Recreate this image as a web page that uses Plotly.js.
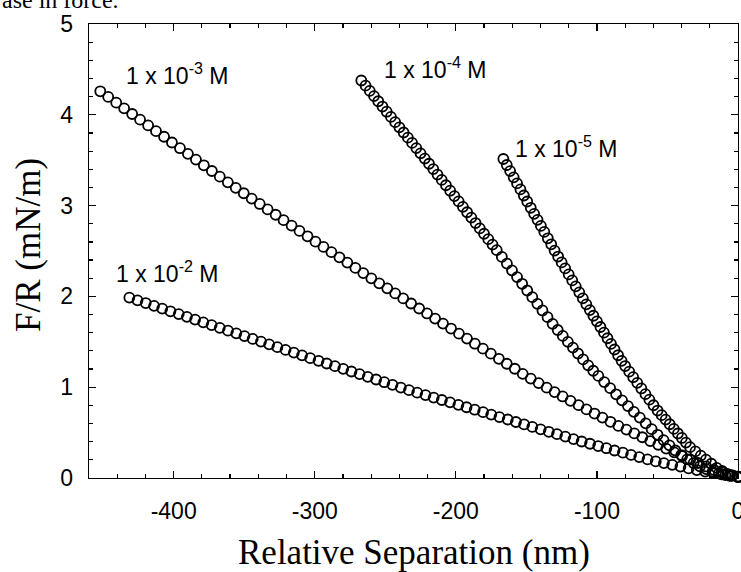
<!DOCTYPE html>
<html>
<head>
<meta charset="utf-8">
<script src="https://cdn.plot.ly/plotly-3.0.1.min.js"></script>
<style>html,body{margin:0;padding:0;background:#fff;}#chart{width:741px;height:572px;}</style>
</head>
<body>
<div id="chart"></div>
<script>
// 1 x 10^-3 M
var sep_1e3 = [-452, -446.4, -440.7, -435.1, -429.4, -423.8, -418.1, -412.5, -406.8, -401.2, -395.5, -389.9, -384.2, -378.6, -372.9, -367.3, -361.6, -356.0, -350.3, -344.7, -339.0, -333.4, -327.7, -322.1, -316.4, -310.8, -305.1, -299.5, -293.8, -288.2, -282.5, -276.9, -271.2, -265.6, -259.9, -254.3, -248.6, -243.0, -237.3, -231.7, -226.0, -220.4, -214.7, -209.1, -203.4, -197.8, -192.1, -186.5, -180.8, -175.2, -169.5, -163.9, -158.2, -152.6, -146.9, -141.3, -135.6, -130.0, -124.3, -118.7, -113.0, -107.4, -101.7, -96.1, -90.4, -84.8, -79.1, -73.5, -67.8, -62.2, -56.5, -50.9, -45.2, -39.6, -33.9, -28.3, -22.6, -17.0, -11.3, -5.7, 0];
var force_1e3 = [4.259, 4.197, 4.134, 4.071, 4.009, 3.946, 3.883, 3.820, 3.758, 3.695, 3.632, 3.570, 3.507, 3.444, 3.381, 3.319, 3.256, 3.196, 3.136, 3.077, 3.018, 2.958, 2.899, 2.840, 2.780, 2.721, 2.662, 2.603, 2.545, 2.487, 2.430, 2.372, 2.314, 2.257, 2.199, 2.144, 2.089, 2.033, 1.978, 1.922, 1.867, 1.812, 1.756, 1.701, 1.646, 1.590, 1.535, 1.479, 1.424, 1.369, 1.313, 1.258, 1.203, 1.147, 1.095, 1.045, 0.995, 0.946, 0.898, 0.850, 0.802, 0.755, 0.710, 0.665, 0.619, 0.574, 0.533, 0.491, 0.449, 0.407, 0.366, 0.324, 0.283, 0.242, 0.204, 0.165, 0.127, 0.088, 0.061, 0.035, 0.010];

// 1 x 10^-2 M
var sep_1e2 = [-431.4, -425.6, -419.8, -413.9, -408.1, -402.3, -396.4, -390.6, -384.8, -379.0, -373.1, -367.3, -361.5, -355.6, -349.8, -344.0, -338.1, -332.3, -326.5, -320.7, -314.8, -309.0, -303.2, -297.3, -291.5, -285.7, -279.8, -274.0, -268.2, -262.4, -256.5, -250.7, -244.9, -239.0, -233.2, -227.4, -221.5, -215.7, -209.9, -204.1, -198.2, -192.4, -186.6, -180.7, -174.9, -169.1, -163.2, -157.4, -151.6, -145.8, -139.9, -134.1, -128.3, -122.4, -116.6, -110.8, -104.9, -99.1, -93.3, -87.5, -81.6, -75.8, -70.0, -64.1, -58.3, -52.5, -46.6, -40.8, -35.0, -29.2, -23.3, -17.5, -11.7, -5.8, 0];
var force_1e2 = [1.987, 1.957, 1.927, 1.896, 1.866, 1.836, 1.805, 1.775, 1.745, 1.714, 1.684, 1.654, 1.623, 1.593, 1.563, 1.532, 1.502, 1.472, 1.441, 1.411, 1.381, 1.351, 1.320, 1.291, 1.261, 1.232, 1.202, 1.173, 1.144, 1.114, 1.085, 1.055, 1.026, 0.996, 0.967, 0.940, 0.913, 0.886, 0.859, 0.833, 0.806, 0.779, 0.752, 0.725, 0.698, 0.671, 0.644, 0.617, 0.590, 0.563, 0.536, 0.509, 0.483, 0.456, 0.429, 0.402, 0.377, 0.352, 0.328, 0.303, 0.279, 0.254, 0.230, 0.205, 0.183, 0.164, 0.145, 0.126, 0.106, 0.087, 0.071, 0.055, 0.040, 0.025, 0.010];

// 1 x 10^-4 M
var sep_1e4 = [-267, -264, -261, -258, -255, -252, -249, -246, -243, -240, -237, -234, -231, -228, -225, -222, -219, -216, -213, -210, -207, -204, -201, -198, -195, -192, -189, -186, -183, -180, -177, -174, -171, -167.4, -163.8, -160.2, -156.6, -153, -149.4, -145.8, -142.2, -138.6, -135, -131.4, -127.8, -124.2, -120.6, -117, -113.4, -109.8, -106.2, -102.6, -99, -94.8, -90.6, -86.4, -82.2, -78, -73.8, -69.6, -65.4, -61.2, -57, -52.8, -48.6, -44.4, -40.2, -36, -31.5, -27, -22.5, -18, -13.5, -9, -4.5, 0];
var force_1e4 = [4.378, 4.321, 4.263, 4.206, 4.149, 4.091, 4.034, 3.977, 3.919, 3.862, 3.805, 3.748, 3.690, 3.633, 3.576, 3.518, 3.461, 3.402, 3.342, 3.283, 3.224, 3.164, 3.105, 3.046, 2.986, 2.927, 2.868, 2.808, 2.749, 2.690, 2.630, 2.571, 2.509, 2.435, 2.361, 2.287, 2.213, 2.139, 2.065, 1.992, 1.918, 1.845, 1.771, 1.698, 1.630, 1.565, 1.500, 1.436, 1.371, 1.306, 1.241, 1.181, 1.124, 1.056, 0.989, 0.922, 0.855, 0.792, 0.729, 0.665, 0.602, 0.538, 0.476, 0.418, 0.360, 0.303, 0.253, 0.206, 0.164, 0.129, 0.098, 0.071, 0.051, 0.033, 0.024, 0.015];

// 1 x 10^-5 M
var sep_1e5 = [-166.3, -163.9, -161.5, -159.0, -156.6, -154.2, -151.8, -149.4, -146.9, -144.5, -142.1, -139.7, -137.3, -134.8, -132.4, -130.0, -127.5, -125, -122.5, -120, -117.5, -115, -112.5, -110, -107.5, -105, -102.5, -100, -97.5, -95, -92.5, -90, -87.5, -85, -82.5, -80, -77.1, -74.3, -71.4, -68.5, -65.6, -62.8, -59.9, -57.0, -54.1, -51.3, -48.4, -45.5, -42.6, -39.8, -36.9, -34.0, -30.2, -26.4, -22.7, -18.9, -15.1, -11.3, -7.6, -3.8, 0];
var force_1e5 = [3.513, 3.447, 3.380, 3.311, 3.244, 3.178, 3.111, 3.045, 2.976, 2.909, 2.843, 2.776, 2.710, 2.640, 2.574, 2.505, 2.439, 2.374, 2.308, 2.242, 2.176, 2.111, 2.045, 1.979, 1.913, 1.849, 1.787, 1.725, 1.663, 1.601, 1.539, 1.477, 1.415, 1.352, 1.290, 1.233, 1.171, 1.110, 1.048, 0.986, 0.923, 0.863, 0.801, 0.743, 0.692, 0.643, 0.592, 0.541, 0.490, 0.441, 0.390, 0.340, 0.293, 0.247, 0.202, 0.157, 0.112, 0.077, 0.045, 0.030, 0.015];

var xTickVals = [-400, -300, -200, -100, 0];
var xTickText = ["-400", "-300", "-200", "-100", "0"];
var yTickVals = [0, 1, 2, 3, 4, 5];
var yTickText = ["0", "1", "2", "3", "4", "5"];

var seriesLabels = ["1 x 10<sup>-3</sup> M", "1 x 10<sup>-4</sup> M", "1 x 10<sup>-5</sup> M", "1 x 10<sup>-2</sup> M"];

function mk(x, y) {
  return {
    x: x, y: y, type: 'scatter', mode: 'markers', showlegend: false, hoverinfo: 'skip', cliponaxis: false,
    marker: {symbol: 'circle-open', size: 10, color: '#000', line: {color: '#000', width: 1.8}}
  };
}

var data = [mk(sep_1e2, force_1e2), mk(sep_1e3, force_1e3), mk(sep_1e4, force_1e4), mk(sep_1e5, force_1e5)];

var sans = 'Liberation Sans, Arial, sans-serif';
var serif = 'Liberation Serif, Times New Roman, serif';

var axisCommon = {
  showgrid: false, zeroline: false, showline: true, linecolor: '#000', linewidth: 1.3,
  mirror: 'allticks', ticks: 'inside', ticklen: 7, tickwidth: 1.2, tickcolor: '#000',
  tickfont: {family: sans, size: 23, color: '#000'}, tickmode: 'array', ticklabeloverflow: 'allow'
};

var layout = {
  width: 741, height: 572,
  margin: {l: 89, r: 3, t: 24, b: 94, pad: 0},
  paper_bgcolor: '#fff', plot_bgcolor: '#fff',
  xaxis: Object.assign({}, axisCommon, {
    range: [-460, 0], tickvals: xTickVals, ticktext: xTickText, ticklabelstandoff: 12,
    minor: {dtick: 20, tick0: 0, ticks: 'inside', ticklen: 4, tickwidth: 1.2, tickcolor: '#000', showgrid: false}
  }),
  yaxis: Object.assign({}, axisCommon, {
    range: [0, 5], tickvals: yTickVals, ticktext: yTickText, ticklabelstandoff: 10,
    minor: {dtick: 0.2, tick0: 0, ticks: 'inside', ticklen: 4, tickwidth: 1.2, tickcolor: '#000', showgrid: false}
  }),
  annotations: [
    {text: seriesLabels[0], xref: 'x', yref: 'y', x: -435.2, y: 4.45, xanchor: 'left', yanchor: 'middle', showarrow: false, font: {family: sans, size: 23, color: '#000'}},
    {text: seriesLabels[1], xref: 'x', yref: 'y', x: -252.3, y: 4.52, xanchor: 'left', yanchor: 'middle', showarrow: false, font: {family: sans, size: 23, color: '#000'}},
    {text: seriesLabels[2], xref: 'x', yref: 'y', x: -159.5, y: 3.65, xanchor: 'left', yanchor: 'middle', showarrow: false, font: {family: sans, size: 23, color: '#000'}},
    {text: seriesLabels[3], xref: 'x', yref: 'y', x: -442.2, y: 2.27, xanchor: 'left', yanchor: 'middle', showarrow: false, font: {family: sans, size: 23, color: '#000'}},
    {text: 'Relative Separation (nm)', xref: 'paper', yref: 'paper', x: 0.5, y: 0, xanchor: 'center', yanchor: 'top', yshift: -53, showarrow: false, font: {family: serif, size: 35, color: '#000'}},
    {text: 'F/R (mN/m)', xref: 'paper', yref: 'paper', x: 0, y: 0.5, xanchor: 'center', yanchor: 'middle', xshift: -61, yshift: 6, textangle: -90, showarrow: false, font: {family: serif, size: 35, color: '#000'}},
    {text: 'ase in force.', xref: 'paper', yref: 'paper', x: 0, y: 1, xanchor: 'left', yanchor: 'bottom', xshift: -89, yshift: 9, showarrow: false, font: {family: serif, size: 24, color: '#000'}}
  ]
};

Plotly.newPlot('chart', data, layout, {displayModeBar: false, staticPlot: true});
</script>
</body>
</html>
